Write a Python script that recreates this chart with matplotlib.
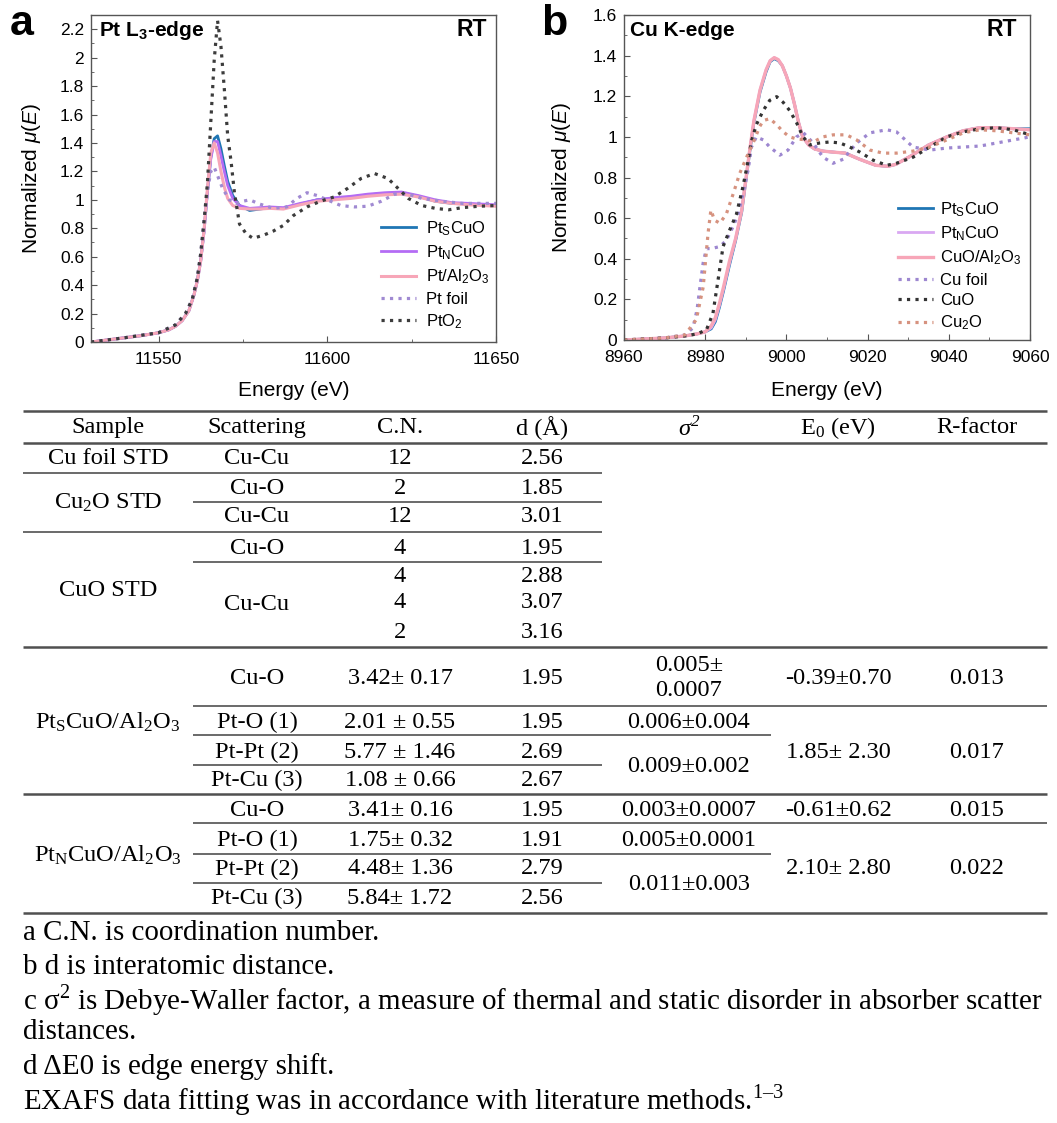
import numpy as np
import matplotlib.pyplot as plt
from matplotlib.lines import Line2D
from matplotlib.ticker import MultipleLocator, FuncFormatter

plt.rcParams['font.family'] = ['Liberation Sans', 'DejaVu Sans']
plt.rcParams['mathtext.fontset'] = 'custom'
plt.rcParams['mathtext.rm'] = 'Liberation Sans'
plt.rcParams['mathtext.it'] = 'Liberation Sans:italic'
plt.rcParams['mathtext.bf'] = 'Liberation Sans:bold'

W, H = 1057, 1123

# ---------------- panel a : Pt L3-edge ----------------
e_pt = [11530, 11535, 11540, 11545, 11550, 11553, 11555, 11557, 11559, 11560.5,
        11561.5, 11562.5, 11563.5, 11564.5, 11565.5, 11566.5, 11567.5, 11568.5,
        11569.5, 11570.5, 11572, 11574, 11577, 11580, 11583, 11587, 11592, 11597,
        11602, 11607, 11612, 11617, 11622, 11627, 11632, 11637, 11642, 11646, 11650]
pts_cuo_a = [0.0, 0.015, 0.03, 0.045, 0.065, 0.085, 0.11, 0.15, 0.22, 0.33,
             0.43, 0.57, 0.78, 1.06, 1.3, 1.43, 1.45, 1.36, 1.24, 1.13, 1.03, 0.96,
             0.925, 0.935, 0.945, 0.94, 0.97, 1.0, 1.01, 1.02, 1.035, 1.045, 1.05,
             1.025, 0.99, 0.975, 0.97, 0.965, 0.96]
ptn_cuo_a = [0.0, 0.015, 0.03, 0.045, 0.065, 0.085, 0.11, 0.15, 0.22, 0.33,
             0.43, 0.57, 0.78, 1.06, 1.29, 1.41, 1.41, 1.31, 1.2, 1.1, 1.01, 0.96,
             0.94, 0.945, 0.95, 0.945, 0.975, 1.0, 1.015, 1.025, 1.04, 1.05, 1.055,
             1.03, 1.0, 0.98, 0.975, 0.97, 0.965]
pt_al2o3_a = [0.0, 0.015, 0.03, 0.045, 0.065, 0.085, 0.11, 0.15, 0.22, 0.33,
              0.43, 0.57, 0.79, 1.08, 1.33, 1.4, 1.33, 1.2, 1.09, 1.01, 0.96, 0.94,
              0.935, 0.935, 0.94, 0.935, 0.965, 0.99, 1.0, 1.01, 1.025, 1.035, 1.04,
              1.02, 0.99, 0.975, 0.965, 0.96, 0.955]
e_ptfoil = [11530, 11540, 11550, 11555, 11558, 11560, 11561.5, 11562.5, 11563.5,
            11564.5, 11565.5, 11566.5, 11567.5, 11569, 11571, 11573, 11575, 11577,
            11580, 11584, 11588, 11591, 11594, 11597, 11600, 11604, 11608, 11612,
            11616, 11620, 11624, 11628, 11634, 11640, 11645, 11650]
pt_foil = [0.0, 0.03, 0.065, 0.12, 0.2, 0.3, 0.45, 0.62, 0.85, 1.06, 1.2, 1.23,
           1.17, 1.08, 1.0, 0.975, 0.99, 1.0, 0.97, 0.94, 0.95, 1.01, 1.05, 1.03,
           1.0, 0.96, 0.95, 0.955, 0.99, 1.04, 1.04, 1.01, 0.99, 0.975, 0.975, 0.975]
e_pto2 = [11530, 11540, 11550, 11555, 11558, 11560, 11561.5, 11562.5, 11563.5,
          11564.5, 11565.5, 11566.5, 11567.5, 11568.5, 11569.5, 11570.5, 11571.5,
          11572.5, 11574, 11576, 11578, 11581, 11584, 11587, 11590, 11594, 11598,
          11602, 11606, 11610, 11614, 11618, 11621, 11624, 11628, 11632, 11636,
          11640, 11645, 11650]
pto2 = [0.0, 0.03, 0.065, 0.12, 0.2, 0.3, 0.45, 0.62, 0.85, 1.12, 1.55, 1.98, 2.26,
        2.08, 1.78, 1.45, 1.27, 1.05, 0.83, 0.76, 0.73, 0.75, 0.78, 0.82, 0.89,
        0.95, 0.99, 1.02, 1.08, 1.15, 1.185, 1.15, 1.08, 1.01, 0.96, 0.94, 0.93,
        0.945, 0.955, 0.96]

# ---------------- panel b : Cu K-edge ----------------
e_cu = [8960, 8965, 8970, 8975, 8978, 8980, 8981.5, 8982.5, 8983.5, 8984.5, 8986,
        8987.5, 8989, 8990, 8991, 8992, 8993.5, 8995, 8996, 8997, 8998, 8999, 9000,
        9001, 9002, 9003, 9004, 9005.5, 9007, 9009, 9011.5, 9014.5, 9018, 9022,
        9025, 9027, 9031, 9035, 9039.5, 9043.5, 9047.5, 9052, 9056, 9060]
pts_cuo_b = [0.0, 0.005, 0.01, 0.02, 0.03, 0.04, 0.055, 0.09, 0.16, 0.24, 0.37,
             0.49, 0.63, 0.78, 0.93, 1.07, 1.22, 1.32, 1.37, 1.385, 1.375, 1.35,
             1.3, 1.24, 1.16, 1.07, 1.0, 0.96, 0.94, 0.93, 0.925, 0.92, 0.89, 0.86,
             0.855, 0.865, 0.91, 0.96, 1.0, 1.03, 1.045, 1.045, 1.04, 1.04]
ptn_cuo_b = [0.0, 0.005, 0.01, 0.02, 0.03, 0.04, 0.06, 0.1, 0.17, 0.25, 0.38,
             0.5, 0.64, 0.79, 0.94, 1.08, 1.23, 1.33, 1.375, 1.39, 1.38, 1.35,
             1.3, 1.24, 1.16, 1.07, 1.0, 0.96, 0.94, 0.93, 0.925, 0.92, 0.89, 0.86,
             0.855, 0.865, 0.91, 0.96, 1.0, 1.03, 1.045, 1.045, 1.04, 1.035]
cuo_al2o3_b = [0.0, 0.005, 0.01, 0.02, 0.03, 0.04, 0.07, 0.11, 0.18, 0.26, 0.39,
               0.5, 0.64, 0.79, 0.94, 1.08, 1.23, 1.33, 1.375, 1.39, 1.38, 1.35,
               1.3, 1.24, 1.16, 1.07, 1.0, 0.96, 0.94, 0.93, 0.925, 0.92, 0.89,
               0.86, 0.855, 0.865, 0.91, 0.96, 1.0, 1.03, 1.045, 1.045, 1.04, 1.035]
e_cufoil = [8960, 8965, 8970, 8975, 8977, 8978, 8978.7, 8979.5, 8980.3, 8981.5,
            8983.6, 8985.2, 8986.9, 8988.1, 8989.3, 8990.6, 8991.4, 8992.6, 8994.3,
            8995.9, 8998.4, 9000.4, 9002.5, 9004.2, 9006.6, 9009, 9011.5, 9014,
            9017.3, 9020.6, 9024.7, 9027.1, 9031.2, 9035.3, 9039.5, 9043.6, 9047.7,
            9051.8, 9055.9, 9060]
cu_foil = [0.0, 0.005, 0.01, 0.025, 0.06, 0.15, 0.26, 0.38, 0.45, 0.45, 0.46,
           0.49, 0.56, 0.62, 0.72, 0.84, 0.95, 1.0, 0.985, 0.95, 0.91, 0.935, 1.0,
           1.02, 0.97, 0.9, 0.87, 0.89, 0.97, 1.02, 1.035, 1.025, 0.95, 0.935,
           0.945, 0.95, 0.955, 0.97, 0.985, 1.0]
e_cuo = [8960, 8965, 8970, 8975, 8978, 8980.3, 8981.9, 8983.2, 8984.4, 8986,
         8987.7, 8989.3, 8990.6, 8991.4, 8992.6, 8994.3, 8995.9, 8997.6, 8999.2,
         9000.8, 9002.5, 9004.1, 9005.8, 9008.2, 9010.7, 9013.2, 9015.6, 9018.1,
         9021.4, 9024.7, 9027.1, 9031.2, 9035.3, 9039.5, 9043.6, 9047.7, 9051.8,
         9055.9, 9060]
cuo_ref = [0.0, 0.005, 0.01, 0.02, 0.03, 0.05, 0.13, 0.3, 0.46, 0.54, 0.62, 0.755,
           0.885, 0.98, 1.06, 1.13, 1.18, 1.198, 1.17, 1.13, 1.07, 1.0, 0.96, 0.97,
           0.975, 0.97, 0.95, 0.925, 0.885, 0.86, 0.87, 0.9, 0.95, 1.0, 1.025,
           1.04, 1.045, 1.035, 1.01]
e_cu2o = [8960, 8965, 8970, 8975, 8977.8, 8979.5, 8980.7, 8981.4, 8982.3, 8983.6,
          8985.2, 8986.9, 8988.5, 8990.2, 8991.8, 8993.4, 8994.3, 8995.9, 8997.6,
          8999.2, 9000.8, 9002.5, 9005, 9006.6, 9009, 9011.5, 9014.8, 9017.3,
          9020.6, 9023.8, 9027.1, 9031.2, 9035.3, 9039.5, 9043.6, 9047.7, 9051.8,
          9055.9, 9060]
cu2o_ref = [0.0, 0.005, 0.01, 0.025, 0.1, 0.26, 0.525, 0.64, 0.59, 0.575, 0.62,
            0.72, 0.82, 0.9, 0.97, 1.05, 1.08, 1.09, 1.06, 1.025, 1.0, 0.99,
            0.985, 0.975, 1.0, 1.01, 1.01, 0.985, 0.935, 0.92, 0.92, 0.93, 0.95,
            0.985, 1.02, 1.035, 1.03, 1.02, 1.01]

# ---------------- EXAFS fitting table ----------------
header = ["Sample", "Scattering", "C.N.", "d (Å)", r"σ$^\mathregular{2}$",
          r"E$_\mathregular{0}$ (eV)", "R-factor"]
samples = ["Cu foil STD", r"Cu$_\mathregular{2}$O STD", "CuO STD",
           r"Pt$_\mathregular{S}$CuO/Al$_\mathregular{2}$O$_\mathregular{3}$",
           r"Pt$_\mathregular{N}$CuO/Al$_\mathregular{2}$O$_\mathregular{3}$"]
paths = ["Cu-Cu", "Cu-O", "Cu-Cu", "Cu-O", "Cu-Cu", "Cu-O", "Pt-O (1)",
         "Pt-Pt (2)", "Pt-Cu (3)", "Cu-O", "Pt-O (1)", "Pt-Pt (2)", "Pt-Cu (3)"]
cn = ["12", "2", "12", "4", "4", "4", "2", "3.42± 0.17", "2.01 ± 0.55",
      "5.77 ± 1.46", "1.08 ± 0.66", "3.41± 0.16", "1.75± 0.32", "4.48± 1.36",
      "5.84± 1.72"]
dist = ["2.56", "1.85", "3.01", "1.95", "2.88", "3.07", "3.16", "1.95", "1.95",
        "2.69", "2.67", "1.95", "1.91", "2.79", "2.56"]
sigma2 = ["0.005±\n0.0007", "0.006±0.004", "0.009±0.002", "0.003±0.0007",
          "0.005±0.0001", "0.011±0.003"]
e0 = ["-0.39±0.70", "1.85± 2.30", "-0.61±0.62", "2.10± 2.80"]
rfac = ["0.013", "0.017", "0.015", "0.022"]
notes = ["a C.N. is coordination number.",
         "b d is interatomic distance.",
         r"c σ$^\mathregular{2}$ is Debye-Waller factor, a measure of thermal and static disorder in absorber scatter",
         "distances.",
         "d ΔE0 is edge energy shift.",
         r"EXAFS data fitting was in accordance with literature methods.$^\mathregular{1–3}$"]

fig = plt.figure(figsize=(W / 100, H / 100), dpi=100)


def fx(x):
    return x / W


def fy(y):
    return 1 - y / H


def style_axes(ax):
    for s in ax.spines.values():
        s.set_color('#555555')
        s.set_linewidth(1.0)
    ax.tick_params(which='both', direction='in', top=False, right=False,
                   color='#555555', labelsize=12.5)
    ax.tick_params(which='major', length=4)
    ax.tick_params(which='minor', length=2.5)
    ax.tick_params(axis='x', pad=7)
    ax.tick_params(axis='y', pad=5)
    ax.yaxis.set_major_formatter(FuncFormatter(lambda v, p: '%g' % round(v, 2)))
    ax.set_xlabel('Energy (eV)', fontsize=15, va='center')
    ax.set_ylabel(r'Normalized $\mathit{\mu}$($\mathit{E}$)', fontsize=15, va='center')


c_blue = '#1f76b4'
c_pink = '#f7a6b8'

# panel a
axa = fig.add_axes([fx(91), fy(342), (496 - 91) / W, (342 - 15) / H])
axa.plot(e_pt, pts_cuo_a, color=c_blue, lw=2, label=r'Pt$_\mathregular{S}$CuO')
axa.plot(e_pt, ptn_cuo_a, color='#b46cf4', lw=2, label=r'Pt$_\mathregular{N}$CuO')
axa.plot(e_pt, pt_al2o3_a, color=c_pink, lw=2.2,
         label=r'Pt/Al$_\mathregular{2}$O$_\mathregular{3}$')
axa.plot(e_ptfoil, pt_foil, color='#a08ad2', lw=2.3, ls=':', label='Pt foil')
axa.plot(e_pto2, pto2, color='#3c3c3c', lw=2.3, ls=':', label=r'PtO$_\mathregular{2}$')
axa.set_xlim(11530, 11650)
axa.set_ylim(0, 2.3)
axa.xaxis.set_major_locator(MultipleLocator(50))
axa.xaxis.set_minor_locator(MultipleLocator(25))
axa.yaxis.set_major_locator(MultipleLocator(0.2))
axa.yaxis.set_minor_locator(MultipleLocator(0.1))
style_axes(axa)
axa.xaxis.set_label_coords(0.5, -0.147)
axa.yaxis.set_label_coords(-0.146, 0.5)
axa.legend(loc='upper left', bbox_to_anchor=(fx(381), fy(219)),
           bbox_transform=fig.transFigure, frameon=False, fontsize=12,
           handlelength=2.1, handletextpad=0.6, labelspacing=0.33,
           borderpad=0, borderaxespad=0)
axa.text(fx(99), fy(30), r'Pt L$_\mathregular{3}$-edge', transform=fig.transFigure,
         fontsize=15, fontweight='bold', va='center', ha='left')
axa.text(fx(487), fy(30), 'RT', transform=fig.transFigure, fontsize=16.5,
         fontweight='bold', va='center', ha='right')
fig.text(fx(10), fy(35), 'a', fontsize=31, fontweight='bold', va='baseline')

# panel b
axb = fig.add_axes([fx(624), fy(340), (1030 - 624) / W, (340 - 15) / H])
axb.plot(e_cu, pts_cuo_b, color=c_blue, lw=2, label=r'Pt$_\mathregular{S}$CuO')
axb.plot(e_cu, ptn_cuo_b, color='#d9a8f2', lw=2, label=r'Pt$_\mathregular{N}$CuO')
axb.plot(e_cu, cuo_al2o3_b, color=c_pink, lw=2.4,
         label=r'CuO/Al$_\mathregular{2}$O$_\mathregular{3}$')
axb.plot(e_cufoil, cu_foil, color='#9d87d0', lw=2.3, ls=':', label='Cu foil')
axb.plot(e_cuo, cuo_ref, color='#333333', lw=2.3, ls=':', label='CuO')
axb.plot(e_cu2o, cu2o_ref, color='#d6927f', lw=2.3, ls=':', label=r'Cu$_\mathregular{2}$O')
axb.set_xlim(8960, 9060)
axb.set_ylim(0, 1.6)
axb.xaxis.set_major_locator(MultipleLocator(20))
axb.xaxis.set_minor_locator(MultipleLocator(10))
axb.yaxis.set_major_locator(MultipleLocator(0.2))
axb.yaxis.set_minor_locator(MultipleLocator(0.1))
style_axes(axb)
axb.xaxis.set_label_coords(0.5, -0.154)
axb.yaxis.set_label_coords(-0.153, 0.5)
axb.legend(loc='upper left', bbox_to_anchor=(fx(898), fy(200)),
           bbox_transform=fig.transFigure, frameon=False, fontsize=12,
           handlelength=2.1, handletextpad=0.4, labelspacing=0.33,
           borderpad=0, borderaxespad=0)
axb.text(fx(630), fy(30), 'Cu K-edge', transform=fig.transFigure,
         fontsize=15, fontweight='bold', va='center', ha='left')
axb.text(fx(1017), fy(30), 'RT', transform=fig.transFigure, fontsize=16.5,
         fontweight='bold', va='center', ha='right')
fig.text(fx(541), fy(35), 'b', fontsize=31, fontweight='bold', va='baseline')

# table
serif = ['Liberation Serif', 'DejaVu Serif']
tfs = 17.6
col_x = [108, 257, 400, 542, 689, 838, 977]


def cell(x, y, s, **kw):
    fig.text(fx(x), fy(y), s, ha='center', va='center', family=serif,
             fontsize=tfs, **kw)


def hline(y, x0, x1, lw=1.2):
    fig.add_artist(Line2D([fx(x0), fx(x1)], [fy(y), fy(y)], color='#505050',
                          lw=lw, solid_capstyle='butt'))


for i, (x, s) in enumerate(zip(col_x, header)):
    cell(x, 428, s, style='italic' if i == 4 else 'normal')

for y, s in zip([459, 503, 591, 722, 855], samples):
    cell(col_x[0], y, s)
for y, s in zip([459, 488, 517, 548, 605, 678, 722, 752, 780, 811, 840, 869, 898], paths):
    cell(col_x[1], y, s)
val_y = [459, 488, 517, 548, 577, 603, 632, 678, 722, 752, 780, 811, 840, 869, 898]
for y, a, b in zip(val_y, cn, dist):
    cell(col_x[2], y, a)
    cell(col_x[3], y, b)
for y, s in zip([678, 722, 766, 811, 840, 884], sigma2):
    cell(col_x[4], y, s, linespacing=1.25)
for y, a, b in zip([678, 752, 811, 869], e0, rfac):
    cell(col_x[5], y, a)
    cell(col_x[6], y, b)

L, R = 23, 1047
for y in [411, 443, 647, 794, 913]:
    hline(y, L, R, lw=1.8)
for y, x0, x1 in [(473, L, 602), (502, 193, 602), (532, L, 602), (562, 193, 602),
                  (706, 193, R), (735, 193, 771), (765, 193, 602),
                  (823, 193, R), (854, 193, 771), (883, 193, 602)]:
    hline(y, x0, x1)

for y, s in zip([933, 967, 1000, 1032, 1067, 1100], notes):
    fig.text(fx(23), fy(y), s, ha='left', va='center', family=serif, fontsize=20.9)

fig.savefig('out.png', dpi=100)
